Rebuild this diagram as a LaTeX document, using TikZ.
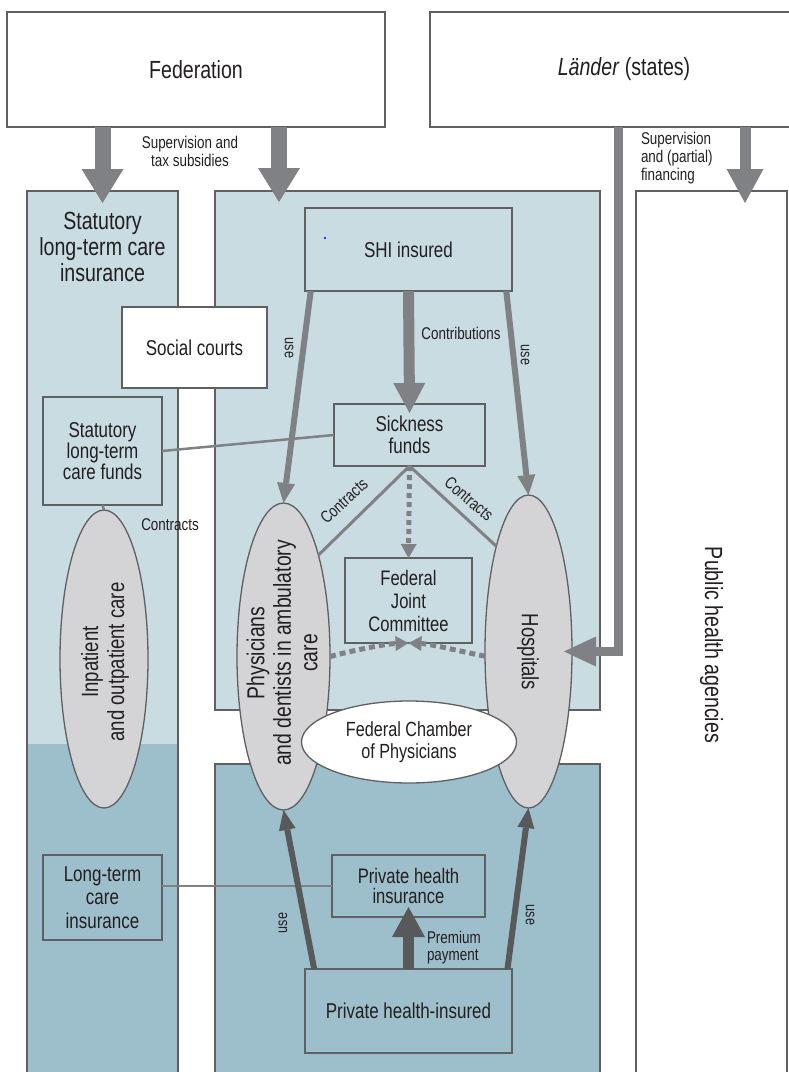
\documentclass[tikz,border=0pt]{standalone}
\usepackage{fontspec}
\setmainfont[FakeStretch=0.79]{Liberation Sans}
\usetikzlibrary{arrows.meta,shapes.geometric,calc}
\definecolor{lblue}{HTML}{C9DCE2}
\definecolor{dblue}{HTML}{9DBFCC}
\definecolor{egray}{HTML}{D4D4D6}
\definecolor{agray}{HTML}{808184}
\definecolor{dgray}{HTML}{58595B}
\definecolor{bline}{HTML}{5F6062}
\definecolor{txt}{HTML}{231F20}
\newcommand\fsz[2]{\fontsize{#1}{#2}\selectfont}
\tikzset{
  every node/.style={text=txt, inner sep=0pt, outer sep=0pt, align=center},
  box/.style={draw=bline, line width=1.3pt, rectangle},
  ell/.style={draw=bline, line width=1.3pt, ellipse, fill=egray},
  bigf/.style={font=\fsz{24.8}{26}},
  mainf/.style={font=\fsz{21.5}{22}},
  smallf/.style={font=\fsz{17}{18}},
  usef/.style={font=\fsz{16}{17}},
  bigarr/.style={draw=agray, line width=16pt, -{Triangle[width=42pt,length=34pt,line width=0pt]}},
  medarr/.style={draw=agray, line width=11pt, -{Triangle[width=37pt,length=34pt,line width=0pt]}},
  landarr/.style={draw=agray, line width=9pt, line join=miter, -{Triangle[width=30pt,length=32pt,line width=0pt]}},
  contarr/.style={draw=agray, line width=11pt, -{Triangle[width=32pt,length=30pt,line width=0pt]}},
  usearr/.style={draw=agray, line width=6pt, -{Triangle[width=18pt,length=20pt,line width=0pt]}},
  pusearr/.style={draw=dgray, line width=6pt, -{Triangle[width=17pt,length=20pt,line width=0pt]}},
  premarr/.style={draw=dgray, line width=11pt, -{Triangle[width=33pt,length=30pt,line width=0pt]}},
  dasharr/.style={draw=agray, line width=5pt, dash pattern=on 5pt off 4pt, -{Triangle[width=16pt,length=14pt,line width=0pt]}},
  arcarr/.style={draw=agray, line width=5pt, dash pattern=on 6pt off 4pt, -{Triangle[width=15pt,length=13pt,line width=0pt]}},
  conline/.style={draw=agray, line width=3pt},
  linkline/.style={draw=agray, line width=2.5pt},
}
\begin{document}
\begin{tikzpicture}[x=1pt,y=-1pt]
\useasboundingbox (0,0) rectangle (789,1072);
% columns
\fill[lblue] (27,191) rectangle (178,744);
\fill[dblue] (27,744) rectangle (178,1080);
\node[box, minimum width=151pt, minimum height=889pt] (ltcol) at (102.5,635.5) {};
\node[box, fill=lblue, minimum width=385pt, minimum height=519pt] (shicol) at (407.5,450.5) {};
\node[box, fill=dblue, minimum width=385pt, minimum height=316pt] (phicol) at (407.5,922) {};
\node[box, fill=white, minimum width=151pt, minimum height=889pt] (phacol) at (711.5,635.5) {};
% top boxes
\node[box, fill=white, minimum width=378pt, minimum height=115pt, bigf] (fed) at (196,69.5) {Federation};
\node[box, fill=white, minimum width=388pt, minimum height=115pt, bigf] (lander) at (624,69.5) {\textit{Länder} (states)};
% column texts
\node[bigf] (ltchead) at (102.5,247) {Statutory\\long-term care\\insurance};
\node[bigf, rotate=-90] (phalab) at (711.5,645) {Public health agencies};
% ellipses
\node[ell, minimum width=88pt, minimum height=298pt] (inpat) at (104,659) {};
\node[ell, minimum width=93pt, minimum height=307pt] (phys) at (283.5,656.5) {};
\node[ell, minimum width=87pt, minimum height=313pt] (hosp) at (528.5,651.5) {};
\node[font=\fsz{23.5}{26}, rotate=90] (inpatlab) at (105,662) {Inpatient\\and outpatient care};
\node[font=\fsz{24.5}{26.5}, rotate=90] (physlab) at (282,653) {Physicians\\and dentists in ambulatory\\care};
\node[font=\fsz{23.5}{26}, rotate=-90] (hosplab) at (528,652) {Hospitals};
\node[ell, fill=white, minimum width=215pt, minimum height=82pt, font=\fsz{20.5}{22}] (chamber) at (409,742) {Federal Chamber\\of Physicians};
% boxes
\node[box, fill=white, minimum width=145pt, minimum height=81pt, mainf] (courts) at (194.5,347.5) {Social courts};
\node[box, fill=lblue, minimum width=207pt, minimum height=83pt, mainf] (shi) at (408.5,249.5) {SHI insured};
\fill[blue] (325,238) circle (1.1pt);
\node[box, fill=lblue, minimum width=151pt, minimum height=62pt, mainf] (sick) at (409.5,435) {Sickness\\funds};
\node[box, fill=lblue, minimum width=119pt, minimum height=108pt, font=\fsz{21.5}{21}] (ltcf) at (102.5,451) {Statutory\\long-term\\care funds};
\node[box, fill=lblue, minimum width=127pt, minimum height=85pt, font=\fsz{21}{23}] (fjc) at (408.5,600.5) {Federal\\Joint\\Committee};
\node[box, fill=dblue, minimum width=119pt, minimum height=85pt, font=\fsz{21.5}{23.5}] (ltci) at (102.5,897.5) {Long-term\\care\\insurance};
\node[box, fill=dblue, minimum width=153pt, minimum height=62pt, font=\fsz{21}{20.5}] (phi) at (408.5,886) {Private health\\insurance};
\node[box, fill=dblue, minimum width=207pt, minimum height=84pt, mainf] (phins) at (408.5,1011) {Private health-insured};
% arrow start coordinates
\coordinate (fedR) at (279,127);
\coordinate (lanL) at (618,127);
\coordinate (lanR) at (745,127);
% federation / länder arrows
\draw[bigarr, shorten >=-12pt] (fed.south -| ltcol.north) -- (ltcol.north);
\draw[bigarr, shorten >=-11pt] (fedR) -- (fedR |- shicol.north);
\draw[medarr, shorten >=-12pt] (lanR) -- (lanR |- phacol.north);
\draw[landarr, shorten >=-8pt] (lanL) |- (hosp.east);
\node[smallf] (suplab) at (190,151) {Supervision and\\tax subsidies};
\node[smallf, align=left, anchor=west] (suplab2) at (641,158) {Supervision\\and (partial)\\financing};
% SHI flows
\draw[contarr, shorten >=-9pt] (shi.south) -- (sick.north);
\node[smallf] (contlab) at (461,333) {Contributions};
\draw[usearr] (shi.203.5) -- (phys.north);
\draw[usearr] (shi.337) -- (hosp.north);
\node[usef, rotate=-90] (use1) at (289,348) {use};
\node[usef, rotate=-90] (use2) at (525,355) {use};
\draw[conline] (sick.south) -- (phys.71);
\draw[conline] (sick.south) -- (hosp.107);
\node[smallf, rotate=42.6] (con1) at (344,501) {Contracts};
\node[smallf, rotate=-40.3] (con2) at (469,499) {Contracts};
\draw[dasharr] (sick.south) -- (fjc.north);
\draw[arcarr] (phys.east) .. controls (355,650) and (385,644) .. (fjc.south);
\draw[arcarr] (hosp.186) .. controls (462,652) and (432,644) .. (fjc.south);
% LTC links
\draw[linkline] (ltcf.east) -- (sick.west);
\draw[linkline] (ltcf.south) -- (inpat.north);
\node[smallf] (con3) at (170,525) {Contracts};
\draw[linkline] (ltci.east |- phi.west) -- (phi.west);
% private flows
\draw[pusearr] (phins.156.5) -- (phys.south);
\draw[pusearr] (phins.23.3) -- (hosp.south);
\node[usef, rotate=90] (use3) at (283,923) {use};
\node[usef, rotate=-90] (use4) at (530,915) {use};
\draw[premarr, shorten >=-10pt] (phins.north) -- (phi.south);
\node[smallf, align=left, anchor=west, font=\fsz{17}{17}] (premlab) at (427,948) {Premium\\payment};
\end{tikzpicture}
\end{document}
